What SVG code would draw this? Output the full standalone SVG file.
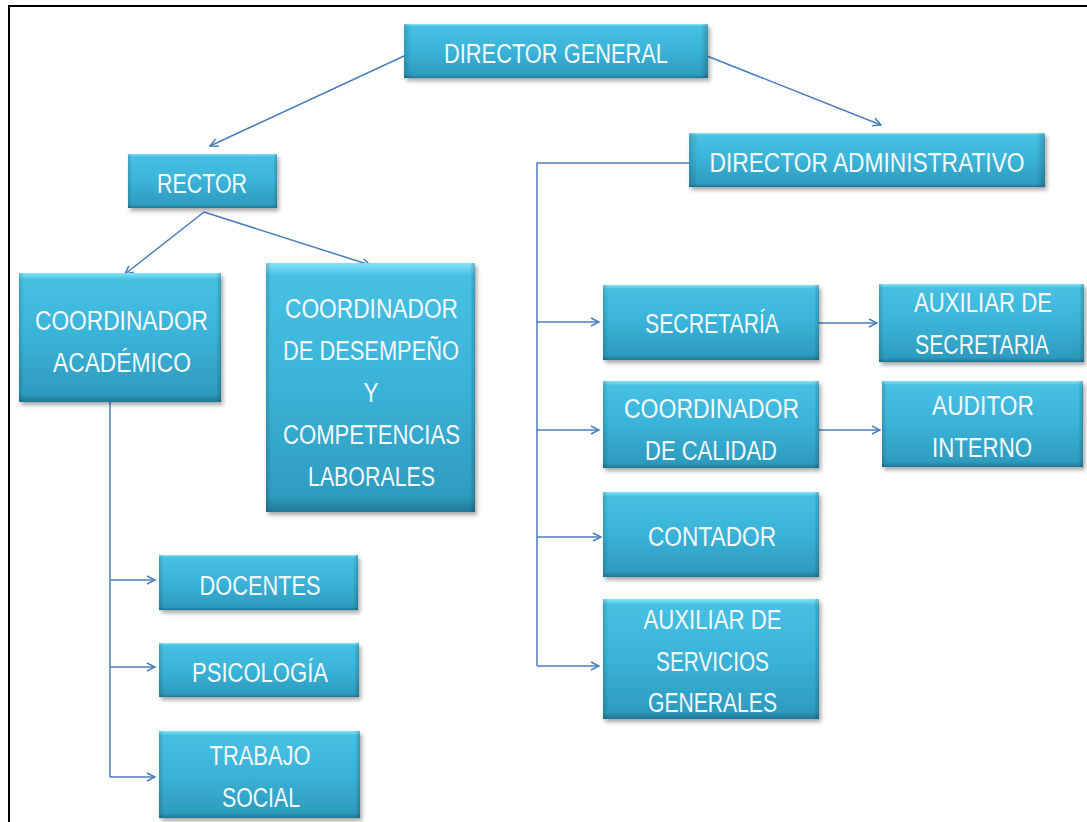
<svg xmlns="http://www.w3.org/2000/svg" width="1087" height="822" viewBox="0 0 1087 822">
<defs>
<linearGradient id="fillV" x1="0" y1="0" x2="0" y2="1">
<stop offset="0" stop-color="#86e3f6"/>
<stop offset="0.05" stop-color="#47c0e3"/>
<stop offset="0.5" stop-color="#3ab3d8"/>
<stop offset="0.94" stop-color="#2e9bbe"/>
<stop offset="1" stop-color="#1f7896"/>
</linearGradient>
<linearGradient id="edgeH" x1="0" y1="0" x2="1" y2="0">
<stop offset="0" stop-color="#000" stop-opacity="0.16"/>
<stop offset="0.025" stop-color="#000" stop-opacity="0"/>
<stop offset="0.975" stop-color="#000" stop-opacity="0"/>
<stop offset="1" stop-color="#000" stop-opacity="0.2"/>
</linearGradient>
<filter id="shadow" x="-10%" y="-10%" width="125%" height="130%">
<feDropShadow dx="2" dy="3" stdDeviation="2" flood-color="#000" flood-opacity="0.35"/>
</filter>
<marker id="arrow" viewBox="0 0 10 10" refX="9" refY="5" markerWidth="10" markerHeight="10" markerUnits="userSpaceOnUse" orient="auto">
<path d="M1,1 L9,5 L1,9" fill="none" stroke="#4a7ebb" stroke-width="1.5"/>
</marker>
<style>
.box{fill:url(#fillV);filter:url(#shadow);}
.edge{fill:url(#edgeH);}
.t{font-family:"Liberation Sans",Arial,sans-serif;font-size:22.4px;fill:#f4fafc;text-anchor:middle;}
.c{fill:none;stroke:#4a7ebb;stroke-width:1.5;}
.a{marker-end:url(#arrow);}
.frame{fill:none;stroke:#000;stroke-width:2;}
</style>
</defs>
<rect width="1087" height="822" fill="#fff"/>
<path class="frame" d="M9,822 V6 H1087"/>

<g id="connectors">
<path class="c a" d="M404,56 L210,146"/>
<path class="c a" d="M707,56 L881,125"/>
<path class="c" d="M689,163 H537 V666"/>
<path class="c a" d="M537,322 H599"/>
<path class="c a" d="M537,430 H599"/>
<path class="c a" d="M537,537 H601"/>
<path class="c a" d="M537,666 H599"/>
<path class="c a" d="M819,323 H877"/>
<path class="c a" d="M819,430 H880"/>
<path class="c a" d="M204,212 L125,274"/>
<path class="c a" d="M204,212 L370,265"/>
<path class="c" d="M110,402 V777"/>
<path class="c a" d="M110,580 H155"/>
<path class="c a" d="M110,667 H155"/>
<path class="c a" d="M110,777 H155"/>
</g>

<g id="director-general">
<rect class="box" x="404" y="24" width="304" height="54"/>
<rect class="edge" x="404" y="24" width="304" height="54"/>
<text class="t" transform="translate(556,63) scale(1,1.25)" textLength="224" lengthAdjust="spacingAndGlyphs">DIRECTOR GENERAL</text>
</g>
<g id="director-administrativo">
<rect class="box" x="689" y="133" width="356" height="54"/>
<rect class="edge" x="689" y="133" width="356" height="54"/>
<text class="t" transform="translate(867,172) scale(1,1.25)" textLength="315" lengthAdjust="spacingAndGlyphs">DIRECTOR ADMINISTRATIVO</text>
</g>
<g id="rector">
<rect class="box" x="128" y="154" width="149" height="54"/>
<rect class="edge" x="128" y="154" width="149" height="54"/>
<text class="t" transform="translate(202,193) scale(1,1.25)" textLength="90" lengthAdjust="spacingAndGlyphs">RECTOR</text>
</g>
<g id="coordinador-academico">
<rect class="box" x="19" y="273" width="202" height="129"/>
<rect class="edge" x="19" y="273" width="202" height="129"/>
<text class="t" transform="translate(121.5,330) scale(1,1.25)" textLength="173" lengthAdjust="spacingAndGlyphs">COORDINADOR</text>
<text class="t" transform="translate(122,372) scale(1,1.25)" textLength="138" lengthAdjust="spacingAndGlyphs">ACADÉMICO</text>
</g>
<g id="coordinador-desempeno">
<rect class="box" x="266" y="263" width="209" height="249"/>
<rect class="edge" x="266" y="263" width="209" height="249"/>
<text class="t" transform="translate(371.5,318) scale(1,1.25)" textLength="173" lengthAdjust="spacingAndGlyphs">COORDINADOR</text>
<text class="t" transform="translate(371,360) scale(1,1.25)" textLength="176" lengthAdjust="spacingAndGlyphs">DE DESEMPEÑO</text>
<text class="t" transform="translate(371,402) scale(1,1.25)" textLength="15" lengthAdjust="spacingAndGlyphs">Y</text>
<text class="t" transform="translate(371.5,444) scale(1,1.25)" textLength="177" lengthAdjust="spacingAndGlyphs">COMPETENCIAS</text>
<text class="t" transform="translate(371.5,486) scale(1,1.25)" textLength="127" lengthAdjust="spacingAndGlyphs">LABORALES</text>
</g>
<g id="secretaria">
<rect class="box" x="603" y="285" width="216" height="75"/>
<rect class="edge" x="603" y="285" width="216" height="75"/>
<text class="t" transform="translate(712,333) scale(1,1.25)" textLength="134" lengthAdjust="spacingAndGlyphs">SECRETARÍA</text>
</g>
<g id="auxiliar-secretaria">
<rect class="box" x="879" y="284" width="205" height="78"/>
<rect class="edge" x="879" y="284" width="205" height="78"/>
<text class="t" transform="translate(983,312) scale(1,1.25)" textLength="138" lengthAdjust="spacingAndGlyphs">AUXILIAR DE</text>
<text class="t" transform="translate(982,354) scale(1,1.25)" textLength="134" lengthAdjust="spacingAndGlyphs">SECRETARIA</text>
</g>
<g id="coordinador-calidad">
<rect class="box" x="603" y="381" width="216" height="87"/>
<rect class="edge" x="603" y="381" width="216" height="87"/>
<text class="t" transform="translate(711.5,418) scale(1,1.25)" textLength="175" lengthAdjust="spacingAndGlyphs">COORDINADOR</text>
<text class="t" transform="translate(711,460) scale(1,1.25)" textLength="132" lengthAdjust="spacingAndGlyphs">DE CALIDAD</text>
</g>
<g id="auditor-interno">
<rect class="box" x="882" y="381" width="201" height="86"/>
<rect class="edge" x="882" y="381" width="201" height="86"/>
<text class="t" transform="translate(983,415) scale(1,1.25)" textLength="102" lengthAdjust="spacingAndGlyphs">AUDITOR</text>
<text class="t" transform="translate(982,457) scale(1,1.25)" textLength="100" lengthAdjust="spacingAndGlyphs">INTERNO</text>
</g>
<g id="contador">
<rect class="box" x="603" y="492" width="216" height="85"/>
<rect class="edge" x="603" y="492" width="216" height="85"/>
<text class="t" transform="translate(712,546) scale(1,1.25)" textLength="128" lengthAdjust="spacingAndGlyphs">CONTADOR</text>
</g>
<g id="auxiliar-servicios">
<rect class="box" x="603" y="599" width="216" height="120"/>
<rect class="edge" x="603" y="599" width="216" height="120"/>
<text class="t" transform="translate(712.5,629) scale(1,1.25)" textLength="138" lengthAdjust="spacingAndGlyphs">AUXILIAR DE</text>
<text class="t" transform="translate(712.5,671) scale(1,1.25)" textLength="113" lengthAdjust="spacingAndGlyphs">SERVICIOS</text>
<text class="t" transform="translate(712.5,712) scale(1,1.25)" textLength="129" lengthAdjust="spacingAndGlyphs">GENERALES</text>
</g>
<g id="docentes">
<rect class="box" x="159" y="555" width="199" height="55"/>
<rect class="edge" x="159" y="555" width="199" height="55"/>
<text class="t" transform="translate(260,595) scale(1,1.25)" textLength="121" lengthAdjust="spacingAndGlyphs">DOCENTES</text>
</g>
<g id="psicologia">
<rect class="box" x="159" y="643" width="200" height="54"/>
<rect class="edge" x="159" y="643" width="200" height="54"/>
<text class="t" transform="translate(260,682) scale(1,1.25)" textLength="136" lengthAdjust="spacingAndGlyphs">PSICOLOGÍA</text>
</g>
<g id="trabajo-social">
<rect class="box" x="159" y="731" width="201" height="87"/>
<rect class="edge" x="159" y="731" width="201" height="87"/>
<text class="t" transform="translate(260,765) scale(1,1.25)" textLength="101" lengthAdjust="spacingAndGlyphs">TRABAJO</text>
<text class="t" transform="translate(261,807) scale(1,1.25)" textLength="78" lengthAdjust="spacingAndGlyphs">SOCIAL</text>
</g>
</svg>
